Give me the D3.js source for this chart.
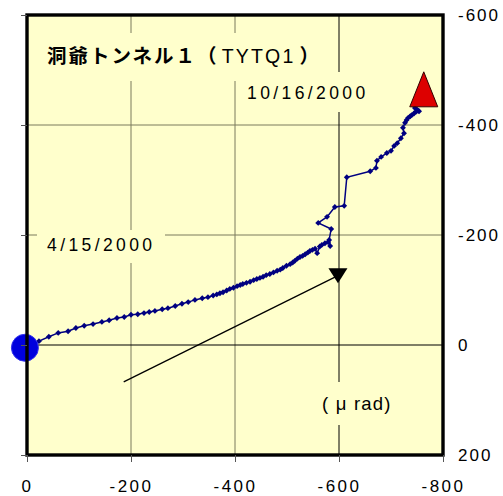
<!DOCTYPE html>
<html><head><meta charset="utf-8">
<script src="https://cdn.jsdelivr.net/npm/d3@7"></script>
<style>
body{margin:0;background:#fff;}
svg{display:block;}
</style></head>
<body>
<svg id="chart" width="503" height="496"></svg>
<script>
// ---- data ----
const xTicks = [0, -200, -400, -600, -800];
const yTicks = [-600, -400, -200, 0, 200];
const tiltX = [-23,-42,-60,-79,-94,-110,-127,-144,-158,-173,-187,-200,-213,-225,-235,-246,-260,-271,-285,-298,-310,-323,-337,-348,-358,-365,-371,-377,-384,-390,-397,-404,-410,-415,-422,-429,-436,-442,-448,-454,-460,-467,-474,-481,-487,-492,-499,-506,-511,-515,-520,-525,-530,-535,-540,-544,-549,-554,-558,-563,-567,-573,-579,-583,-581,-585,-560,-577,-592,-610,-615,-660,-671,-673,-681,-692,-700,-706,-712,-719,-725,-723,-727,-730,-733,-737,-740,-744,-748,-752,-754,-750,-746];
const tiltY = [-7,-15,-22,-25,-31,-35,-38,-42,-45,-49,-51,-55,-56,-58,-60,-62,-65,-67,-71,-75,-78,-82,-85,-87,-90,-92,-94,-96,-99,-102,-104,-107,-109,-111,-113,-115,-118,-120,-122,-124,-127,-129,-132,-135,-137,-140,-144,-147,-150,-153,-157,-160,-162,-165,-168,-171,-173,-175,-167,-179,-182,-185,-187,-180,-191,-211,-222,-233,-251,-253,-305,-316,-322,-335,-342,-349,-353,-362,-367,-376,-385,-395,-404,-409,-413,-416,-418,-421,-424,-426,-425,-428,-431];
const startPoint = [4, 5];
const endPoint = [-763, -464];
const arrowX = [-186, -598];
const arrowY = [67, -127];
const titleJa = "洞爺トンネル１（";
const titleCode = "TYTQ1";
const titleClose = "）";
const startLabel = "4/15/2000";
const endLabel = "10/16/2000";
const unitLabel = "( μ rad)";

// ---- layout ----
const L = 27, R = 443, T = 15, B = 455;
const svg = d3.select("#chart");
const x = d3.scaleLinear().domain([0, -800]).range([L, R]);
const y = d3.scaleLinear().domain([-600, 200]).range([T, B]);
const FONT = "'Liberation Sans', Arial, sans-serif";
const fmt = d => String(d);

svg.append("rect").attr("x", L).attr("y", T).attr("width", R - L).attr("height", B - T)
  .attr("fill", "#FFFFCC");

// grid
const gridCol = "#7a7a5c";
svg.append("g").selectAll("line").data(xTicks.filter(v => v !== 0 && v !== -800 && v !== -600))
  .join("line").attr("x1", d => x(d)).attr("x2", d => x(d)).attr("y1", T).attr("y2", B)
  .attr("stroke", gridCol).attr("stroke-width", 1);
svg.append("g").selectAll("line").data(yTicks.filter(v => v !== -600 && v !== 200 && v !== 0))
  .join("line").attr("y1", d => y(d)).attr("y2", d => y(d)).attr("x1", L).attr("x2", R)
  .attr("stroke", gridCol).attr("stroke-width", 1);
// axis crossing lines (black)
svg.append("line").attr("x1", x(-600)).attr("x2", x(-600)).attr("y1", T).attr("y2", B)
  .attr("stroke", "#000").attr("stroke-width", 1);
svg.append("line").attr("x1", L).attr("x2", R).attr("y1", y(0)).attr("y2", y(0))
  .attr("stroke", "#000").attr("stroke-width", 1.2);

// label boxes covering gridlines
const boxes = [[37, 33, 293, 48], [240, 72, 135, 40], [37, 230, 128, 33], [312, 382, 95, 43]];
svg.append("g").selectAll("rect").data(boxes).join("rect")
  .attr("x", d => d[0]).attr("y", d => d[1]).attr("width", d => d[2]).attr("height", d => d[3])
  .attr("fill", "#FFFFCC");

// arrow
svg.append("line").attr("x1", x(arrowX[0])).attr("y1", y(arrowY[0]))
  .attr("x2", x(arrowX[1]) - 3).attr("y2", y(arrowY[1]) + 2)
  .attr("stroke", "#000").attr("stroke-width", 1.3);
{
  const cx = x(arrowX[1]), cy = y(arrowY[1]);
  svg.append("path").attr("d", `M${cx - 9.5},${cy - 7}L${cx + 9.5},${cy - 7}L${cx},${cy + 8}Z`).attr("fill", "#000");
}

// series
const pts = tiltX.map((v, i) => [v, tiltY[i]]);
svg.append("path").datum([startPoint, ...pts])
  .attr("d", d3.line().x(d => x(d[0])).y(d => y(d[1])))
  .attr("fill", "none").attr("stroke", "#000080").attr("stroke-width", 1.5);
const diamond = d3.symbol().type(d3.symbolDiamond2).size(22);
svg.append("g").selectAll("path").data(pts).join("path")
  .attr("transform", d => `translate(${x(d[0])},${y(d[1])})`)
  .attr("d", diamond).attr("fill", "#000080");

// start / end markers
svg.append("circle").attr("cx", x(startPoint[0])).attr("cy", y(startPoint[1])).attr("r", 13.5)
  .attr("fill", "#0000DD").attr("stroke", "#3333ee").attr("stroke-width", 1);
{
  const cx = x(endPoint[0]), cy = y(endPoint[1]);
  svg.append("path").attr("d", `M${cx},${cy - 18}L${cx + 14},${cy + 17}L${cx - 14},${cy + 17}Z`)
    .attr("fill", "#DD0000").attr("stroke", "#330000").attr("stroke-width", 1);
}

// frame
svg.append("rect").attr("x", L).attr("y", T).attr("width", R - L).attr("height", B - T)
  .attr("fill", "none").attr("stroke", "#000").attr("stroke-width", 3.4);

// axes
const bottom = svg.append("g").attr("transform", `translate(0,${B})`)
  .call(d3.axisBottom(x).tickValues(xTicks).tickSize(7).tickPadding(18).tickFormat(fmt));
bottom.select(".domain").remove();
bottom.selectAll(".tick line").attr("stroke", "#555");
bottom.selectAll("text").attr("font-family", FONT).attr("font-size", 17).attr("letter-spacing", "2.5px").attr("fill", "#000");

const left = svg.append("g").attr("transform", `translate(${L},0)`)
  .call(d3.axisLeft(y).tickValues(yTicks).tickSize(6).tickFormat(""));
left.select(".domain").remove();
left.selectAll(".tick line").attr("stroke", "#555");

const right = svg.append("g").attr("transform", `translate(${R},0)`)
  .call(d3.axisRight(y).tickValues(yTicks).tickSize(0).tickPadding(15).tickFormat(fmt));
right.select(".domain").remove();
right.selectAll("text").attr("font-family", FONT).attr("font-size", 17).attr("letter-spacing", "2px").attr("fill", "#000");

// title
const title = svg.append("text").attr("x", 47).attr("y", 63).attr("font-size", 19.5).attr("fill", "#000");
title.append("tspan").attr("font-family", "'Noto Sans CJK JP', sans-serif").attr("font-weight", "bold").attr("letter-spacing", "2px").text(titleJa);
title.append("tspan").attr("font-family", FONT).attr("dx", 3).attr("letter-spacing", "2.2px").text(titleCode);
title.append("tspan").attr("font-family", "'Noto Sans CJK JP', sans-serif").attr("font-weight", "bold").attr("dx", 4).text(titleClose);

svg.append("text").attr("x", 247).attr("y", 99).attr("font-family", FONT).attr("font-size", 17.5)
  .attr("letter-spacing", "3.4px").text(endLabel);
svg.append("text").attr("x", 47).attr("y", 251).attr("font-family", FONT).attr("font-size", 17.5)
  .attr("letter-spacing", "3.4px").text(startLabel);
svg.append("text").attr("x", 322).attr("y", 410).attr("font-family", FONT).attr("font-size", 18.5)
  .attr("letter-spacing", "1.2px").text(unitLabel);
</script>
</body></html>
